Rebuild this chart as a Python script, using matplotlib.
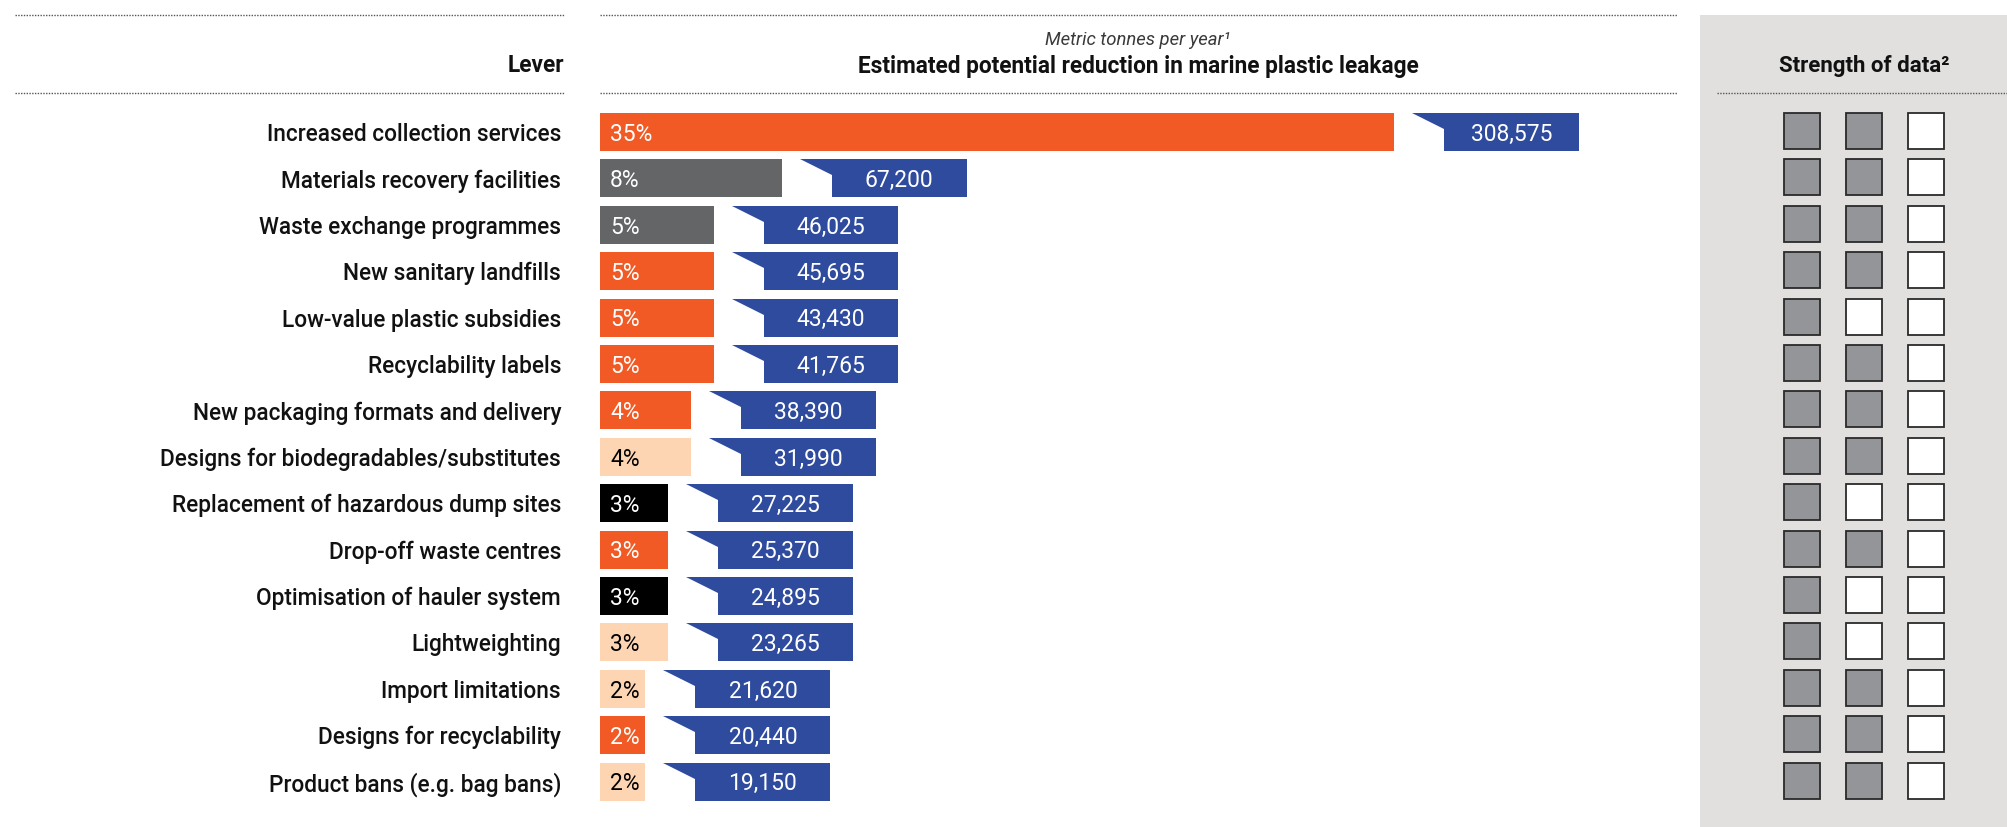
import matplotlib.pyplot as plt
from matplotlib.patches import Polygon, Rectangle
from matplotlib.lines import Line2D

plt.rcParams['font.family'] = ['Roboto', 'DejaVu Sans']

levers = [
    'Increased collection services',
    'Materials recovery facilities',
    'Waste exchange programmes',
    'New sanitary landfills',
    'Low-value plastic subsidies',
    'Recyclability labels',
    'New packaging formats and delivery',
    'Designs for biodegradables/substitutes',
    'Replacement of hazardous dump sites',
    'Drop-off waste centres',
    'Optimisation of hauler system',
    'Lightweighting',
    'Import limitations',
    'Designs for recyclability',
    'Product bans (e.g. bag bans)',
]
share_pct = [35, 8, 5, 5, 5, 5, 4, 4, 3, 3, 3, 3, 2, 2, 2]
tonnes = [308575, 67200, 46025, 45695, 43430, 41765, 38390, 31990,
          27225, 25370, 24895, 23265, 21620, 20440, 19150]
# lever type -> bar colour
lever_type = ['orange', 'grey', 'grey', 'orange', 'orange', 'orange', 'orange', 'peach',
              'black', 'orange', 'black', 'peach', 'peach', 'orange', 'peach']
# strength of data: 1 = filled box, 0 = empty box
strength = [
    [1, 1, 0], [1, 1, 0], [1, 1, 0], [1, 1, 0], [1, 0, 0],
    [1, 1, 0], [1, 1, 0], [1, 1, 0], [1, 0, 0], [1, 1, 0],
    [1, 0, 0], [1, 0, 0], [1, 1, 0], [1, 1, 0], [1, 1, 0],
]

colors = {'orange': '#f15a24', 'grey': '#646567', 'peach': '#fdd5b3', 'black': '#000000'}
text_colors = {'orange': 'white', 'grey': 'white', 'peach': 'black', 'black': 'white'}
BLUE = '#2f4b9e'

W, H = 2008, 827
fig = plt.figure(figsize=(W / 100, H / 100), dpi=100)


def fx(px):
    return px / W


def fy(py):
    return 1 - py / H


# main bar axes, row i centred at 132 + 46.4*i px
row_px = 46.4
row0 = 132
top_px = row0 - 0.5 * row_px
bot_px = row0 + 14.5 * row_px
px_per_pct = 22.7
ax = fig.add_axes([fx(600), fy(bot_px), fx(1677 - 600), (bot_px - top_px) / H])
ax.set_xlim(0, (1677 - 600) / px_per_pct)
ax.set_ylim(14.5, -0.5)
for s in ax.spines.values():
    s.set_visible(False)
ax.set_xticks([])

n = len(levers)
rows = list(range(n))
bh = 38 / row_px
ax.barh(rows, share_pct, height=bh, color=[colors[t] for t in lever_type], align='center')
ax.set_yticks(rows)
ax.set_yticklabels(levers, fontsize=16.3, fontweight='medium', color='#111111')
ax.tick_params(axis='y', length=0, pad=28)

gap = 18 / px_per_pct
tri_w = 32 / px_per_pct
box_w = 135 / px_per_pct
notch = 16 / row_px
for i in rows:
    p = share_pct[i]
    ax.text(10 / px_per_pct, i + 0.05, f'{p}%', color=text_colors[lever_type[i]],
            fontsize=16.5, va='center', ha='left')
    x0 = p + gap
    top, bot = i - bh / 2, i + bh / 2
    poly = Polygon([(x0, top), (x0 + tri_w + box_w, top), (x0 + tri_w + box_w, bot),
                    (x0 + tri_w, bot), (x0 + tri_w, top + notch)],
                   closed=True, facecolor=BLUE, edgecolor='none')
    ax.add_patch(poly)
    ax.text(x0 + tri_w + box_w / 2, i + 0.05, f'{tonnes[i]:,}', color='white',
            fontsize=16.5, va='center', ha='center')

# strength of data panel
panel_top = 15
ax2 = fig.add_axes([fx(1700), 0, fx(W - 1700), fy(panel_top)])
ax2.set_facecolor('#e1e0df')
col_px = 62
ax2.set_xlim(-(1802 - 1700) / col_px, (W - 1802) / col_px)
ax2.set_ylim((H - row0) / row_px, (panel_top - row0) / row_px)
for s in ax2.spines.values():
    s.set_visible(False)
ax2.set_xticks([])
ax2.set_yticks([])
sq_w = 36 / col_px
sq_h = 36 / row_px
for i, flags in enumerate(strength):
    for j, f in enumerate(flags):
        ax2.add_patch(Rectangle((j - sq_w / 2, i - sq_h / 2 - 0.02), sq_w, sq_h,
                                facecolor='#949598' if f else 'white',
                                edgecolor='#2a2a2a', lw=1.3))
ax2.text(1, (66 - row0) / row_px, 'Strength of data²', ha='center', va='center',
         fontsize=16, fontweight='bold', color='#111111')
ax2.plot([(1717 - 1802) / col_px, (W - 1802) / col_px], [(93 - row0) / row_px] * 2,
         color='#555555', lw=1, ls=(0, (1, 1)), clip_on=False)

# header text and dotted rules
fig.text(fx(564), fy(66), 'Lever', ha='right', va='center', fontsize=16.3,
         fontweight='bold', color='#111111')
fig.text(fx(1138), fy(66), 'Estimated potential reduction in marine plastic leakage',
         ha='center', va='center', fontsize=16.3, fontweight='bold', color='#111111')
fig.text(fx(1138), fy(40), 'Metric tonnes per year¹', ha='center', va='center',
         fontsize=13.3, fontstyle='italic', fontweight='normal', color='#3a3a3a')
for y in (15, 93):
    for x_a, x_b in ((15, 564), (600, 1677)):
        fig.add_artist(Line2D([fx(x_a), fx(x_b)], [fy(y), fy(y)], color='#555555',
                              lw=1, ls=(0, (1, 1))))

fig.savefig('out.png', dpi=100)
